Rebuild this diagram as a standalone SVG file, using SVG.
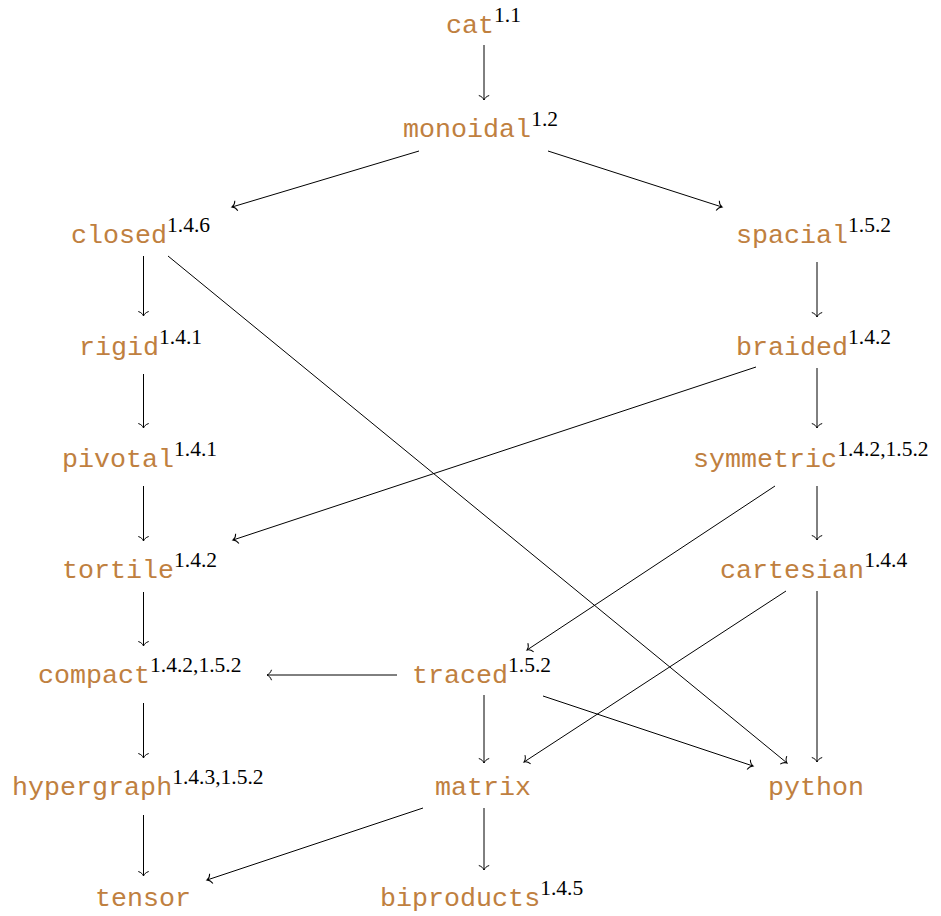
<svg xmlns="http://www.w3.org/2000/svg" width="941" height="916" viewBox="0 0 941 916">
<defs>
<style>
.n{font-family:"Liberation Mono","DejaVu Sans Mono",monospace;font-size:26.7px;fill:#BF8040}
.s{font-family:"Liberation Serif","DejaVu Serif",serif;font-size:21.5px;fill:#000}
.e line{stroke:#000;stroke-width:1;fill:none;marker-end:url(#arr)}
</style>
<marker id="arr" markerUnits="userSpaceOnUse" markerWidth="14" markerHeight="14" refX="0" refY="0" viewBox="-7 -7 14 14" orient="auto" overflow="visible">
<path d="M-4.5,-5.2 C-3.6,-2.2 -1.6,-0.6 0,0 C-1.6,0.6 -3.6,2.2 -4.5,5.2" fill="none" stroke="#000" stroke-width="1"/>
</marker>
</defs>
<rect width="941" height="916" fill="#fff"/>
<g id="edges" class="e">
<line x1="484" y1="45" x2="484" y2="100"/>
<line x1="419" y1="151" x2="232" y2="207"/>
<line x1="548" y1="151" x2="722" y2="207"/>
<line x1="143.5" y1="256" x2="143.5" y2="316"/>
<line x1="168" y1="256" x2="787" y2="763"/>
<line x1="817" y1="262" x2="817" y2="317"/>
<line x1="143.5" y1="374" x2="143.5" y2="428"/>
<line x1="756" y1="367" x2="233" y2="540"/>
<line x1="817" y1="368" x2="817" y2="428"/>
<line x1="143.5" y1="486" x2="143.5" y2="541"/>
<line x1="817" y1="486" x2="817" y2="540"/>
<line x1="775" y1="486" x2="527" y2="650"/>
<line x1="143.5" y1="592" x2="143.5" y2="646"/>
<line x1="786" y1="591" x2="524" y2="762"/>
<line x1="817" y1="591" x2="817" y2="762"/>
<line x1="397" y1="675" x2="267" y2="675"/>
<line x1="484" y1="695" x2="484" y2="763"/>
<line x1="543" y1="696" x2="753" y2="766"/>
<line x1="143.5" y1="703" x2="143.5" y2="758"/>
<line x1="143.5" y1="815" x2="143.5" y2="876"/>
<line x1="423" y1="808" x2="207" y2="880"/>
<line x1="484" y1="808" x2="484" y2="870"/>
</g>
<g id="cat"><text class="n" x="446" y="33">cat<tspan class="s" dy="-11.5">1.1</tspan></text></g>
<g id="monoidal"><text class="n" x="403" y="137">monoidal<tspan class="s" dy="-11.5">1.2</tspan></text></g>
<g id="closed"><text class="n" x="71" y="243">closed<tspan class="s" dy="-11.5">1.4.6</tspan></text></g>
<g id="spacial"><text class="n" x="736" y="243">spacial<tspan class="s" dy="-11.5">1.5.2</tspan></text></g>
<g id="rigid"><text class="n" x="79" y="355">rigid<tspan class="s" dy="-11.5">1.4.1</tspan></text></g>
<g id="braided"><text class="n" x="736" y="355">braided<tspan class="s" dy="-11.5">1.4.2</tspan></text></g>
<g id="pivotal"><text class="n" x="62" y="467">pivotal<tspan class="s" dy="-11.5">1.4.1</tspan></text></g>
<g id="symmetric"><text class="n" x="693" y="467">symmetric<tspan class="s" dy="-11.5">1.4.2,1.5.2</tspan></text></g>
<g id="tortile"><text class="n" x="62" y="578">tortile<tspan class="s" dy="-11.5">1.4.2</tspan></text></g>
<g id="cartesian"><text class="n" x="720" y="578">cartesian<tspan class="s" dy="-11.5">1.4.4</tspan></text></g>
<g id="compact"><text class="n" x="38" y="683">compact<tspan class="s" dy="-11.5">1.4.2,1.5.2</tspan></text></g>
<g id="traced"><text class="n" x="412" y="683">traced<tspan class="s" dy="-11.5">1.5.2</tspan></text></g>
<g id="hypergraph"><text class="n" x="12" y="795">hypergraph<tspan class="s" dy="-11.5">1.4.3,1.5.2</tspan></text></g>
<g id="matrix"><text class="n" x="435" y="795">matrix</text></g>
<g id="python"><text class="n" x="768" y="795">python</text></g>
<g id="tensor"><text class="n" x="95" y="906">tensor</text></g>
<g id="biproducts"><text class="n" x="380" y="906">biproducts<tspan class="s" dy="-11.5">1.4.5</tspan></text></g>
</svg>
